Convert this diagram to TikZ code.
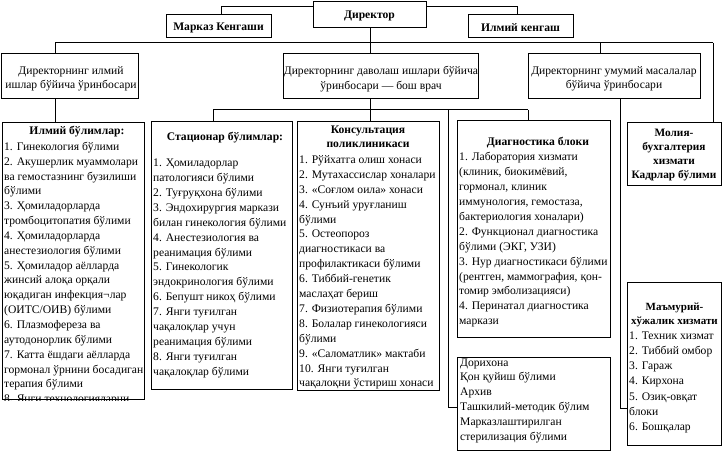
\documentclass[tikz,border=0pt]{standalone}
\usepackage{fontspec}
\setmainfont{Liberation Serif}
\tikzset{
  bx/.style={draw, line width=1pt, inner sep=0pt, anchor=north west},
  ln/.style={line width=1pt},
  tx/.style={inner sep=0pt, align=left, anchor=north west, font=\fontsize{11.6}{14.9}\selectfont},
  tc/.style={inner sep=0pt, align=center, anchor=north, font=\bfseries\fontsize{11.6}{14.9}\selectfont},
  td/.style={inner sep=0pt, align=center, anchor=north, font=\fontsize{11.6}{14.5}\selectfont},
  tb/.style={inner sep=0pt, anchor=center, font=\bfseries\fontsize{11.6}{14}\selectfont},
}
\newcommand\bxat[5]{\node[bx, minimum width={(#4-#2)*1pt}, minimum height={(#5-#3)*1pt}] (#1) at (#2,#3) {};}
\begin{document}
\begin{tikzpicture}[x=1pt,y=-1pt]
\path[fill=white, use as bounding box] (0,0) rectangle (724,452);
% top row
\bxat{dir}{313}{1}{426}{27}
\bxat{markaz}{166}{14}{271}{37}
\bxat{ilk}{468}{14}{573}{37}
\node[tb] (dirt) at (369.5,16) {Директор};
\node[tb] (markazt) at (218.5,28) {Марказ Кенгаши};
\node[tb] (ilkt) at (520.5,28) {Илмий кенгаш};
% deputies
\bxat{depa}{1}{53}{138}{98}
\bxat{depb}{283}{53}{478}{98}
\bxat{depc}{528}{53}{700}{98}
\node[td] (depat) at (71,66.3) {Директорнинг илмий\\ишлар бўйича ўринбосари};
\node[td] (depbt) at (381,66.3) {Директорнинг даволаш ишлари бўйича\\ўринбосари — бош врач};
\node[td] (depct) at (614,66.3) {Директорнинг умумий масалалар\\бўйича ўринбосари};
% units
\bxat{ilb}{2}{122}{144}{399}
\bxat{stat}{151}{121}{292}{389}
\bxat{kons}{297}{121}{439}{390}
\bxat{diag}{457}{120}{610}{337}
\bxat{dori}{457}{357}{610}{450}
\bxat{mol}{627}{122}{721}{185}
\bxat{mam}{627}{282}{721}{445}
% connectors
\coordinate (ja) at (221,7);
\coordinate (jb) at (517,7);
\draw[ln] (ja -| dir.west) -- (ja) -- (ja |- markaz.north);
\draw[ln] (jb -| dir.east) -- (jb) -- (jb |- ilk.north);
\coordinate (busl) at (55,43);
\coordinate (busr) at (713,43);
\coordinate (busc) at (600,43);
\draw[ln] (dir.south) -- (dir.south |- depb.north);
\draw[ln] (busl) -- (busr);
\draw[ln] (busl) -- (busl |- depa.north);
\draw[ln] (busc) -- (busc |- depc.north);
\draw[ln] (busr) -- (busr |- mol.north);
\draw[ln] (busl |- depa.south) -- (busl |- ilb.north);
\draw[ln] (dir.south |- depb.south) -- (dir.south |- kons.north);
\coordinate (ml) at (213,110);
\coordinate (mr) at (528,110);
\coordinate (md) at (448,110);
\coordinate (dj) at (448,407);
\draw[ln] (ml) -- (mr);
\draw[ln] (ml) -- (ml |- stat.north);
\draw[ln] (mr) -- (mr |- diag.north);
\draw[ln] (md) -- (dj) -- (dj -| dori.west);
\coordinate (rj) at (620,408);
\draw[ln] (rj |- depc.south) -- (rj) -- (rj -| mam.west);
% texts
\begin{scope}
\clip (ilb.north west) rectangle (ilb.south east);
\node[tc] (ilbt) at (77,126.3) {Илмий бўлимлар:};
\node[tx, font=\fontsize{11.6}{14.85}\selectfont] (ilbx) at (4,141.8) {1. Гинекология бўлими\\
2. Акушерлик муаммолари\\
ва гемостазнинг бузилиши\\
бўлими\\
3. Ҳомиладорларда\\
тромбоцитопатия бўлими\\
4. Ҳомиладорларда\\
анестезиология бўлими\\
5. Ҳомиладор аёлларда\\
жинсий алоқа орқали\\
юқадиган инфекция¬лар\\
(ОИТС/ОИВ) бўлими\\
6. Плазмофереза ва\\
аутодонорлик бўлими\\
7. Катта ёшдаги аёлларда\\
гормонал ўрнини босадиган\\
терапия бўлими\\
8. Янги технологияларни};
\end{scope}
\node[tc] (statt) at (225,132.3) {Стационар бўлимлар:};
\node[tx] (statx) at (153,158.8) {1. Ҳомиладорлар\\
патологияси бўлими\\
2. Туғруқхона бўлими\\
3. Эндохирургия маркази\\
билан гинекология бўлими\\
4. Анестезиология ва\\
реанимация бўлими\\
5. Гинекологик\\
эндокринология бўлими\\
6. Бепушт никоҳ бўлими\\
7. Янги туғилган\\
чақалоқлар учун\\
реанимация бўлими\\
8. Янги туғилган\\
чақалоқлар бўлими};
\node[tc] (konst) at (368,125.3) {Консультация\\поликлиникаси};
\node[tx] (konsx) at (299,155.3) {1. Рўйхатга олиш хонаси\\
2. Мутахассислар хоналари\\
3. «Соғлом оила» хонаси\\
4. Сунъий уруғланиш\\
бўлими\\
5. Остеопороз\\
диагностикаси ва\\
профилактикаси бўлими\\
6. Тиббий-генетик\\
маслаҳат бериш\\
7. Физиотерапия бўлими\\
8. Болалар гинекологияси\\
бўлими\\
9. «Саломатлик» мактаби\\
10. Янги туғилган\\
чақалоқни ўстириш хонаси};
\node[tc] (diagt) at (538,137.3) {Диагностика блоки};
\node[tx] (diagx) at (459,152.3) {1. Лаборатория хизмати\\
(клиник, биокимёвий,\\
гормонал, клиник\\
иммунология, гемостаза,\\
бактериология хоналари)\\
2. Функционал диагностика\\
бўлими (ЭКГ, УЗИ)\\
3. Нур диагностикаси бўлими\\
(рентген, маммография, қон-\\
томир эмболизацияси)\\
4. Перинатал диагностика\\
маркази};
\node[tx] (dorix) at (460,358.3) {Дорихона\\
Қон қуйиш бўлими\\
Архив\\
Ташкилий-методик бўлим\\
Марказлаштирилган\\
стерилизация бўлими};
\node[tc, font=\bfseries\fontsize{11.3}{14}\selectfont] (molt) at (674,129.3) {Молия-\\бухгалтерия\\хизмати\\Кадрлар бўлими};
\node[tc, font=\bfseries\fontsize{11}{14.9}\selectfont] (mamt) at (674.5,302.3) {Маъмурий-\\хўжалик хизмати};
\node[tx, font=\fontsize{11.6}{15.1}\selectfont] (mamx) at (629,331.8) {1. Техник хизмат\\
2. Тиббий омбор\\
3. Гараж\\
4. Кирхона\\
5. Озиқ-овқат\\
блоки\\
6. Бошқалар};
\end{tikzpicture}
\end{document}
